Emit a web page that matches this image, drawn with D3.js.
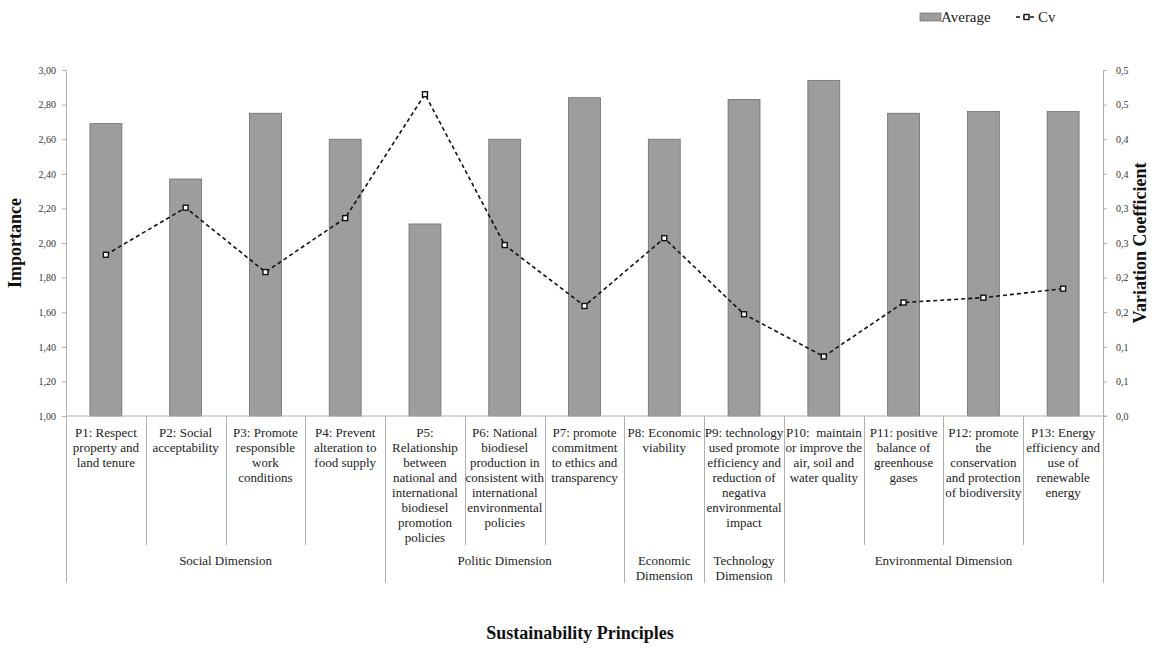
<!DOCTYPE html>
<html>
<head>
<meta charset="utf-8">
<script src="https://cdn.jsdelivr.net/npm/d3@7"></script>
<style>
body{margin:0;background:#fff;}
svg{display:block;font-family:"Liberation Serif","Times New Roman",serif;}
</style>
</head>
<body>
<svg id="chart" width="1159" height="648"></svg>
<script>
const categories = ["P1","P2","P3","P4","P5","P6","P7","P8","P9","P10","P11","P12","P13"];
const categoryLabels = [
  ["P1: Respect","property and","land tenure"],
  ["P2: Social","acceptability"],
  ["P3: Promote","responsible","work","conditions"],
  ["P4: Prevent","alteration to","food supply"],
  ["P5:","Relationship","between","national and","international","biodiesel","promotion","policies"],
  ["P6: National","biodiesel","production in","consistent with","international","environmental","policies"],
  ["P7: promote","commitment","to ethics and","transparency"],
  ["P8: Economic","viability"],
  ["P9: technology","used promote","efficiency and","reduction of","negativa","environmental","impact"],
  ["P10:  maintain","or improve the","air, soil and","water quality"],
  ["P11: positive","balance of","greenhouse","gases"],
  ["P12: promote","the","conservation","and protection","of biodiversity"],
  ["P13: Energy","efficiency and","use of","renewable","energy"]
];
const average = [2.69, 2.37, 2.75, 2.60, 2.11, 2.60, 2.84, 2.60, 2.83, 2.94, 2.75, 2.76, 2.76];
const cv = [0.233, 0.301, 0.208, 0.286, 0.465, 0.247, 0.159, 0.257, 0.147, 0.086, 0.164, 0.171, 0.184];
const dimensions = [
  {lines:["Social Dimension"], from:0, to:3},
  {lines:["Politic Dimension"], from:4, to:6},
  {lines:["Economic","Dimension"], from:7, to:7},
  {lines:["Technology","Dimension"], from:8, to:8},
  {lines:["Environmental Dimension"], from:9, to:12}
];
const leftTicks = [1.0,1.2,1.4,1.6,1.8,2.0,2.2,2.4,2.6,2.8,3.0];
const leftTickLabels = ["1,00","1,20","1,40","1,60","1,80","2,00","2,20","2,40","2,60","2,80","3,00"];
const rightTicks = [0,0.05,0.10,0.15,0.20,0.25,0.30,0.35,0.40,0.45,0.50];
const rightTickLabels = ["0,0","0,1","0,1","0,2","0,2","0,3","0,3","0,4","0,4","0,5","0,5"];

const svg = d3.select("#chart");
const L = 66, R = 1103, T = 70, B = 416;

const x = d3.scaleBand().domain(categories).range([L, R]).paddingInner(0.6).paddingOuter(0.3);
const cell = d3.scaleBand().domain(categories).range([L, R]).padding(0);
const yL = d3.scaleLinear().domain([1, 3]).range([B, T]);
const yR = d3.scaleLinear().domain([0, 0.5]).range([B, T]);

// bars
svg.append("g").selectAll("rect").data(categories).join("rect")
  .attr("x", d => x(d))
  .attr("width", x.bandwidth())
  .attr("y", (d,i) => yL(average[i]))
  .attr("height", (d,i) => B - yL(average[i]))
  .attr("fill", "#9d9d9d")
  .attr("stroke", "#6e6e6e")
  .attr("stroke-width", 0.8);

// left axis
const axL = svg.append("g").attr("transform", `translate(${L},0)`)
  .call(d3.axisLeft(yL).tickValues(leftTicks).tickSize(4).tickSizeOuter(0)
    .tickFormat((d,i) => leftTickLabels[i]))
  .attr("font-family", "Liberation Serif").attr("font-size", 10);
axL.select(".domain").attr("stroke", "#b0b0b0");
axL.selectAll(".tick line").attr("stroke", "#b0b0b0");
axL.selectAll("text").attr("fill", "#333").attr("x", -10);

// right axis
const axR = svg.append("g").attr("transform", `translate(${R},0)`)
  .call(d3.axisRight(yR).tickValues(rightTicks).tickSize(4).tickSizeOuter(0)
    .tickFormat((d,i) => rightTickLabels[i]))
  .attr("font-family", "Liberation Serif").attr("font-size", 10);
axR.select(".domain").attr("stroke", "#b0b0b0");
axR.selectAll(".tick line").attr("stroke", "#b0b0b0");
axR.selectAll("text").attr("fill", "#333").attr("x", 13);

// baseline
svg.append("line").attr("x1", L).attr("x2", R + 4).attr("y1", B).attr("y2", B)
  .attr("stroke", "#b0b0b0");

// category separators
const groupStarts = new Set(dimensions.map(d => d.from));
const sep = svg.append("g").attr("stroke", "#b0b0b0").attr("stroke-width", 1);
categories.forEach((c, i) => {
  const xx = Math.round(cell(c)) + 0.5;
  sep.append("line").attr("x1", xx).attr("x2", xx).attr("y1", B)
    .attr("y2", groupStarts.has(i) ? 583 : 545);
});
sep.append("line").attr("x1", R + 0.5).attr("x2", R + 0.5).attr("y1", B).attr("y2", 583);

// category labels
const lab = svg.append("g").attr("font-size", 13).attr("fill", "#222").attr("text-anchor", "middle");
categories.forEach((c, i) => {
  const t = lab.append("text").attr("x", x(c) + x.bandwidth() / 2).attr("y", 437);
  categoryLabels[i].forEach((ln, j) => {
    t.append("tspan").attr("x", x(c) + x.bandwidth() / 2).attr("dy", j === 0 ? 0 : 15)
      .attr("xml:space", "preserve").text(ln);
  });
});

// dimension labels
const dl = svg.append("g").attr("font-size", 13).attr("fill", "#222").attr("text-anchor", "middle");
dimensions.forEach(d => {
  const x0 = cell(categories[d.from]);
  const x1 = cell(categories[d.to]) + cell.bandwidth();
  const t = dl.append("text").attr("x", (x0 + x1) / 2).attr("y", 565);
  d.lines.forEach((ln, j) => {
    t.append("tspan").attr("x", (x0 + x1) / 2).attr("dy", j === 0 ? 0 : 15).text(ln);
  });
});

// Cv line
const cx = c => x(c) + x.bandwidth() / 2;
const line = d3.line().x((d,i) => cx(categories[i])).y(d => yR(d));
svg.append("path").datum(cv).attr("d", line)
  .attr("fill", "none").attr("stroke", "#111").attr("stroke-width", 1.6)
  .attr("stroke-dasharray", "4,3");
svg.append("g").selectAll("rect").data(cv).join("rect")
  .attr("x", (d,i) => cx(categories[i]) - 2.5)
  .attr("y", d => yR(d) - 2.5)
  .attr("width", 5).attr("height", 5)
  .attr("fill", "#fff").attr("stroke", "#111").attr("stroke-width", 1.4);

// axis titles
svg.append("text").attr("transform", `translate(21,${(T + B) / 2}) rotate(-90)`)
  .attr("text-anchor", "middle").attr("font-size", 18).attr("font-weight", "bold")
  .attr("fill", "#111").text("Importance");
svg.append("text").attr("transform", `translate(1146,${(T + B) / 2}) rotate(-90)`)
  .attr("text-anchor", "middle").attr("font-size", 18).attr("font-weight", "bold")
  .attr("fill", "#111").text("Variation Coefficient");
svg.append("text").attr("x", 580).attr("y", 639)
  .attr("text-anchor", "middle").attr("font-size", 18).attr("font-weight", "bold")
  .attr("fill", "#111").text("Sustainability Principles");

// legend
const lg = svg.append("g");
lg.append("rect").attr("x", 920).attr("y", 13).attr("width", 21).attr("height", 8)
  .attr("fill", "#9d9d9d").attr("stroke", "#777").attr("stroke-width", 0.8);
lg.append("text").attr("x", 941).attr("y", 22).attr("font-size", 15).attr("fill", "#222").text("Average");
lg.append("line").attr("x1", 1016).attr("x2", 1037).attr("y1", 17).attr("y2", 17)
  .attr("stroke", "#111").attr("stroke-width", 1.6).attr("stroke-dasharray", "4,3");
lg.append("rect").attr("x", 1024).attr("y", 14.5).attr("width", 5).attr("height", 5)
  .attr("fill", "#fff").attr("stroke", "#111").attr("stroke-width", 1.4);
lg.append("text").attr("x", 1038).attr("y", 22).attr("font-size", 15).attr("fill", "#222").text("Cv");
</script>
</body>
</html>
